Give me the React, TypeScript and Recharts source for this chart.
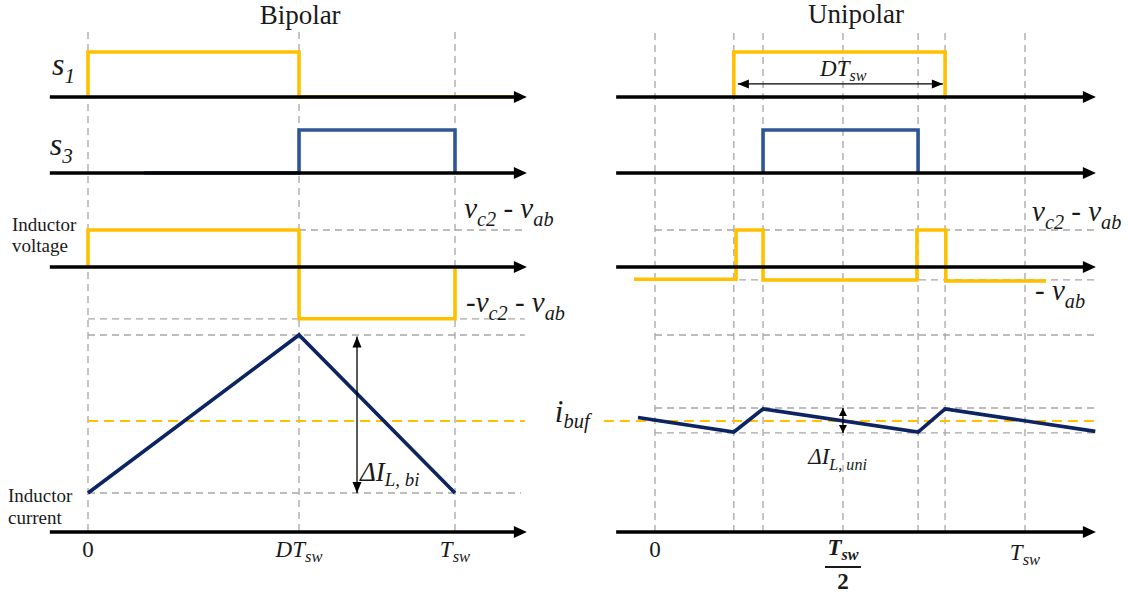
import React from 'react'
import { ComposedChart, Line, XAxis, YAxis, ReferenceDot } from 'recharts'

const W = 1128
const H = 597
const FONT = "'Liberation Serif', 'DejaVu Serif', serif"
const INK = '#1a1a1a'
const GRID = '#a6a6a6'
const YELLOW = '#ffc000'
const BLUE = '#2f5597'
const NAVY = '#0c2461'

// ---- values, time in units of Tsw ----
// bipolar
const D_BI = 0.575
const biEdges = [0, D_BI, 1]
const biS1Time = [0, 0, D_BI, D_BI, 1.16]
const biS1Level = [0, 1, 1, 0, 0]
const biS3Time = [0.153, D_BI, D_BI, 1, 1]
const biS3Level = [0, 0, 1, 1, 0]
const biVlTime = [0, 0, D_BI, D_BI, 1, 1]
const biVlLevel = [0, 1, 1, -1.4, -1.4, 0] // vc2-vab = 1, -vc2-vab = -1.4
const biIlTime = [0, D_BI, 1]
const biIlLevel = [0, 1, 0]
const I_BUF = 0.455
const biTicks = ['0', 'DT_{sw}', 'T_{sw}']

// unipolar
const uniEdges = [0, 0.213, 0.292, 0.508, 0.711, 0.784, 1]
const uniS1Time = [0.213, 0.213, 0.784, 0.784]
const uniS1Level = [0, 1, 1, 0]
const uniS3Time = [0.292, 0.292, 0.711, 0.711]
const uniS3Level = [0, 1, 1, 0]
const uniVlTime = [-0.057, 0.219, 0.219, 0.292, 0.292, 0.708, 0.708, 0.786, 0.786, 1.057]
const uniVlLevel = [-0.33, -0.33, 1, 1, -0.35, -0.35, 1, 1, -0.38, -0.38]
const V_AB_UNI = -0.35
const uniIlTime = [-0.046, 0.213, 0.292, 0.711, 0.784, 1.19]
const uniIlLevel = [0.478, 0.386, 0.532, 0.386, 0.532, 0.39]
const UNI_RIPPLE = [0.38, 0.538]
const uniTicks = ['0', 'T_{sw}/2', 'T_{sw}']
const uniTickTimes = [0, 0.508, 1]

// ---- layout (vertical position of each row, px from the top) ----
type Row = { base: number; amp: number }
const ROWS: Record<'s1' | 's3' | 'vl' | 'il', Row> = {
	s1: { base: 97, amp: 45 },
	s3: { base: 173, amp: 43 },
	vl: { base: 267, amp: 37 },
	il: { base: 493, amp: 158 },
}
const TIME_Y = 532

type Dir = 'right' | 'left' | 'up' | 'down'
type Pt = { t: number; y: number; head?: Dir }

const rowY = (row: Row, v: number) => row.base - row.amp * v
const trace = (ts: number[], vs: number[], row: Row): Pt[] =>
	ts.map((t, i) => ({ t, y: rowY(row, vs[i]) }))
const hSeg = (y: number, t0: number, t1: number): Pt[] => [
	{ t: t0, y },
	{ t: t1, y },
]
const vSeg = (t: number, y0: number, y1: number): Pt[] => [
	{ t, y: y0 },
	{ t, y: y1 },
]

const DIRS: Record<Dir, [number, number]> = {
	right: [1, 0],
	left: [-1, 0],
	up: [0, -1],
	down: [0, 1],
}

const headDot =
	(len: number, half: number, ahead: number, color: string) => (props: any) => {
		const { cx, cy, payload, index } = props
		const d: Dir | undefined = payload?.head
		if (!d || cx == null || cy == null) return <g key={`h${index}`} />
		const [ux, uy] = DIRS[d]
		const tx = cx + ux * ahead
		const ty = cy + uy * ahead
		const bx = tx - ux * len
		const by = ty - uy * len
		const pts = `${tx},${ty} ${bx - uy * half},${by + ux * half} ${bx + uy * half},${by - ux * half}`
		return <polygon key={`h${index}`} points={pts} fill={color} />
	}

const parseMath = (s: string) => {
	const parts: { s: string; sub: boolean }[] = []
	const re = /_\{([^}]*)\}|[^_]+/g
	let m: RegExpExecArray | null
	while ((m = re.exec(s))) {
		parts.push(m[1] !== undefined ? { s: m[1], sub: true } : { s: m[0], sub: false })
	}
	return parts
}

const MathText = ({
	x,
	y,
	text,
	size,
	italic = true,
	anchor = 'start',
	weight = 'normal',
	subRatio = 0.7,
	subShift = 0.28,
}: {
	x: number
	y: number
	text: string
	size: number
	italic?: boolean
	anchor?: 'start' | 'middle' | 'end'
	weight?: string
	subRatio?: number
	subShift?: number
}) => {
	let shift = 0
	return (
		<text
			x={x}
			y={y}
			textAnchor={anchor}
			fill={INK}
			style={{
				whiteSpace: 'pre',
				fontFamily: FONT,
				fontSize: size,
				fontStyle: italic ? 'italic' : 'normal',
				fontWeight: weight,
			}}
		>
			{parseMath(text).map((p, i) => {
				const target = p.sub ? size * subShift : 0
				const dy = target - shift
				shift = target
				return (
					<tspan key={i} dy={dy} style={{ fontSize: p.sub ? size * subRatio : size }}>
						{p.s}
					</tspan>
				)
			})}
		</text>
	)
}

type LabelSpec = {
	t: number
	y: number
	render: (x: number, y: number) => React.ReactElement
}

const math =
	(text: string, size: number, opts: Partial<React.ComponentProps<typeof MathText>> = {}) =>
	(x: number, y: number) => <MathText x={x} y={y} text={text} size={size} {...opts} />

const plain =
	(text: string, size: number, anchor: 'start' | 'middle' = 'start') =>
	(x: number, y: number) => (
		<text
			x={x}
			y={y}
			textAnchor={anchor}
			fill={INK}
			style={{ fontFamily: FONT, fontSize: size }}
		>
			{text}
		</text>
	)

const fraction = (label: string) => (x: number, y: number) => {
	const [num, den] = label.split('/')
	return (
		<g>
			<MathText x={x} y={y} text={num} size={23} anchor="middle" weight="bold" subShift={0.22} />
			<line x1={x - 18} x2={x + 18} y1={y + 12} y2={y + 12} stroke={INK} strokeWidth={2} />
			<text
				x={x}
				y={y + 34}
				textAnchor="middle"
				fill={INK}
				style={{ fontFamily: FONT, fontSize: 23, fontWeight: 'bold' }}
			>
				{den}
			</text>
		</g>
	)
}

const tickLabel = (label: string) =>
	label.includes('/')
		? fraction(label)
		: math(label, 23, { anchor: 'middle', italic: label !== '0', subRatio: 0.72, subShift: 0.22 })

interface PanelCfg {
	origin: number
	span: number
	grid: Pt[][]
	buf: Pt[]
	traces: { data: Pt[]; color: string }[]
	axes: Pt[][]
	arrows: { data: Pt[]; len: number; half: number }[]
	labels: LabelSpec[]
}

const BI: PanelCfg = {
	origin: 88,
	span: 367,
	grid: [
		...biEdges.map((t) => vSeg(t, 32, TIME_Y)),
		hSeg(rowY(ROWS.vl, 1), D_BI, 1.19),
		hSeg(rowY(ROWS.vl, -1.4), 0, 1.19),
		hSeg(rowY(ROWS.il, 1), 0, 1.19),
		hSeg(rowY(ROWS.il, 0), 0, 1.18),
	],
	buf: hSeg(rowY(ROWS.il, I_BUF), 0, 1.19),
	traces: [
		{ data: trace(biS1Time, biS1Level, ROWS.s1), color: YELLOW },
		{ data: trace(biS3Time, biS3Level, ROWS.s3), color: BLUE },
		{ data: trace(biVlTime, biVlLevel, ROWS.vl), color: YELLOW },
		{ data: trace(biIlTime, biIlLevel, ROWS.il), color: NAVY },
	],
	axes: [ROWS.s1.base, ROWS.s3.base, ROWS.vl.base, TIME_Y].map((y) => [
		{ t: -0.104, y },
		{ t: 1.174, y, head: 'right' as Dir },
	]),
	arrows: [
		{
			data: [
				{ t: 0.733, y: rowY(ROWS.il, 0.99), head: 'up' },
				{ t: 0.733, y: rowY(ROWS.il, 0), head: 'down' },
			],
			len: 11,
			half: 4.5,
		},
	],
	labels: [
		{ t: 0.578, y: 24, render: plain('Bipolar', 27, 'middle') },
		{ t: -0.098, y: 75, render: math('s_{1}', 32, { subRatio: 0.66, subShift: 0.24 }) },
		{ t: -0.104, y: 155, render: math('s_{3}', 32, { subRatio: 0.66, subShift: 0.24 }) },
		{ t: -0.207, y: 231, render: plain('Inductor', 19) },
		{ t: -0.207, y: 252, render: plain('voltage', 19) },
		{ t: -0.218, y: 502, render: plain('Inductor', 19) },
		{ t: -0.218, y: 524, render: plain('current', 19) },
		{ t: 1.025, y: 218, render: math('v_{c2} - v_{ab}', 29) },
		{ t: 1.03, y: 312, render: math('-v_{c2} - v_{ab}', 29) },
		{ t: 0.741, y: 481, render: math('ΔI_{L, bi}', 27, { subShift: 0.2 }) },
		{ t: 1.272, y: 422, render: math('i_{buf}', 31, { subRatio: 0.66, subShift: 0.2 }) },
		...biTicks.map((label, i) => ({ t: biEdges[i], y: 557, render: tickLabel(label) })),
	],
}

const UNI: PanelCfg = {
	origin: 655,
	span: 370,
	grid: [
		...uniEdges.map((t) => vSeg(t, 33, 537)),
		hSeg(rowY(ROWS.vl, 1), 0, 1.19),
		hSeg(rowY(ROWS.vl, V_AB_UNI), 0, 1.19),
		hSeg(rowY(ROWS.il, 1), 0, 1.19),
		...UNI_RIPPLE.map((v) => hSeg(rowY(ROWS.il, v), 0, 1.19)),
	],
	buf: hSeg(rowY(ROWS.il, I_BUF), -0.138, 1.19),
	traces: [
		{ data: trace(uniS1Time, uniS1Level, ROWS.s1), color: YELLOW },
		{ data: trace(uniS3Time, uniS3Level, ROWS.s3), color: BLUE },
		{ data: trace(uniVlTime, uniVlLevel, ROWS.vl), color: YELLOW },
		{ data: trace(uniIlTime, uniIlLevel, ROWS.il), color: NAVY },
	],
	axes: [ROWS.s1.base, ROWS.s3.base, ROWS.vl.base, TIME_Y].map((y) => [
		{ t: -0.105, y },
		{ t: 1.17, y, head: 'right' as Dir },
	]),
	arrows: [
		{
			data: [
				{ t: 0.224, y: rowY(ROWS.s1, 0.29), head: 'left' },
				{ t: 0.778, y: rowY(ROWS.s1, 0.29), head: 'right' },
			],
			len: 11,
			half: 4.5,
		},
		{
			data: [
				{ t: 0.508, y: rowY(ROWS.il, UNI_RIPPLE[1]), head: 'up' },
				{ t: 0.508, y: rowY(ROWS.il, UNI_RIPPLE[0]), head: 'down' },
			],
			len: 8,
			half: 4,
		},
	],
	labels: [
		{ t: 0.543, y: 23, render: plain('Unipolar', 27, 'middle') },
		{ t: 0.446, y: 76, render: math('DT_{sw}', 23, { subShift: 0.2 }) },
		{ t: 1.019, y: 221, render: math('v_{c2} - v_{ab}', 29) },
		{ t: 1.027, y: 300, render: math('- v_{ab}', 29) },
		{ t: 0.414, y: 464, render: math('ΔI_{L, uni}', 23, { subShift: 0.28 }) },
		...uniTicks.map((label, i) => ({
			t: uniTickTimes[i],
			y: label.includes('/') ? 555 : i === 0 ? 557 : 560,
			render: tickLabel(label),
		})),
	],
}

const lineProps = {
	dataKey: 'y',
	type: 'linear' as const,
	activeDot: false,
	isAnimationActive: false,
	strokeLinejoin: 'miter' as const,
}

function Panel({ p }: { p: PanelCfg }) {
	return (
		<div style={{ position: 'absolute', left: 0, top: 0 }}>
			<ComposedChart width={W} height={H} margin={{ top: 0, right: 0, bottom: 0, left: 0 }}>
				<XAxis
					type="number"
					dataKey="t"
					domain={[-p.origin / p.span, (W - p.origin) / p.span]}
					allowDataOverflow
					hide
				/>
				<YAxis type="number" dataKey="y" domain={[0, H]} reversed allowDataOverflow hide />
				{p.grid.map((d, i) => (
					<Line
						key={`g${i}`}
						{...lineProps}
						data={d}
						stroke={GRID}
						strokeWidth={1.3}
						strokeDasharray="7 5"
						dot={false}
					/>
				))}
				<Line
					{...lineProps}
					data={p.buf}
					stroke={YELLOW}
					strokeWidth={2}
					strokeDasharray="10 6"
					dot={false}
				/>
				{p.traces.map((s, i) => (
					<Line
						key={`s${i}`}
						{...lineProps}
						data={s.data}
						stroke={s.color}
						strokeWidth={3.6}
						dot={false}
					/>
				))}
				{p.axes.map((d, i) => (
					<Line
						key={`a${i}`}
						{...lineProps}
						data={d}
						stroke="#000"
						strokeWidth={3.6}
						dot={headDot(13, 6, 8, '#000')}
					/>
				))}
				{p.arrows.map((a, i) => (
					<Line
						key={`r${i}`}
						{...lineProps}
						data={a.data}
						stroke="#000"
						strokeWidth={1.3}
						dot={headDot(a.len, a.half, 0, '#000')}
					/>
				))}
				{p.labels.map((l, i) => (
					<ReferenceDot
						key={`l${i}`}
						x={l.t}
						y={l.y}
						r={0}
						ifOverflow="visible"
						shape={(props: any) => l.render(props.cx, props.cy)}
					/>
				))}
			</ComposedChart>
		</div>
	)
}

export default function App() {
	return (
		<div
			style={{
				position: 'absolute',
				left: 0,
				top: 0,
				width: W,
				height: H,
				background: '#fff',
			}}
		>
			<Panel p={BI} />
			<Panel p={UNI} />
		</div>
	)
}
